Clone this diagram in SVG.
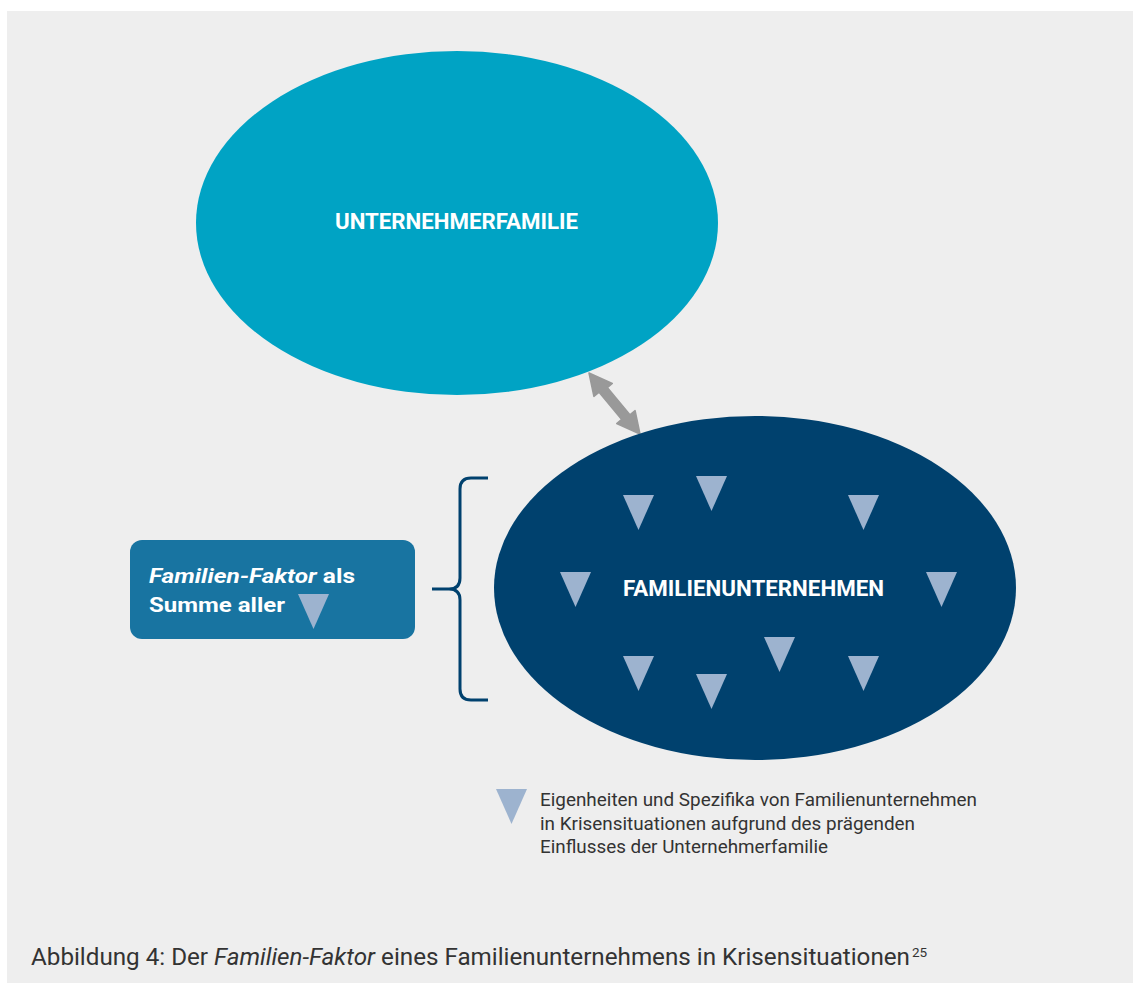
<svg xmlns="http://www.w3.org/2000/svg" width="1133" height="983" viewBox="0 0 1133 983">
<defs>
<style>
.bg{fill:#eeeeee}
.lbl{font-family:Roboto,"Liberation Sans",sans-serif;font-weight:700;fill:#ffffff;font-size:22px}
.tri{fill:#9db3cf}
.box{font-family:Roboto,"Liberation Sans",sans-serif;font-weight:700;fill:#ffffff;font-size:21px}
.leg{font-family:Roboto,"Liberation Sans",sans-serif;fill:#333333;font-size:18px}
.cap{font-family:Roboto,"Liberation Sans",sans-serif;fill:#333333;font-size:23px}
.sup{font-family:Roboto,"Liberation Sans",sans-serif;fill:#333333;font-size:13.5px}
</style>
<path id="t" d="M0,0 h31 l-15.5,35 z"/>
</defs>
<rect width="1133" height="983" fill="#ffffff"/>
<rect class="bg" x="7" y="11" width="1126" height="972"/>

<g id="connectors">
<polygon fill="#999999" stroke="#999999" stroke-width="1.5" stroke-linejoin="round" points="589,373 612.3,383.5 607.3,387.6 629.9,414.8 635.1,410.6 640,434 616.7,423.6 621.7,419.4 599.1,392.2 593.9,396.4"/>
<path d="M488,478 H471 Q460,478 460,489 V578 Q460,589 449,589 H432 M449,589 Q460,589 460,600 V689 Q460,700 471,700 H488" fill="none" stroke="#00416e" stroke-width="3"/>
</g>

<g id="unternehmerfamilie">
<ellipse cx="457" cy="223" rx="261" ry="172" fill="#00a3c4"/>
<text class="lbl" x="456.5" y="229" text-anchor="middle" textLength="243" lengthAdjust="spacingAndGlyphs">UNTERNEHMERFAMILIE</text>
</g>

<g id="familienunternehmen">
<ellipse cx="755" cy="588" rx="261" ry="172" fill="#00416e"/>
<text class="lbl" x="753.5" y="596" text-anchor="middle" textLength="261" lengthAdjust="spacingAndGlyphs">FAMILIENUNTERNEHMEN</text>
<use href="#t" class="tri" x="623" y="495"/>
<use href="#t" class="tri" x="696" y="476"/>
<use href="#t" class="tri" x="848" y="495"/>
<use href="#t" class="tri" x="560" y="572"/>
<use href="#t" class="tri" x="926" y="572"/>
<use href="#t" class="tri" x="623" y="656"/>
<use href="#t" class="tri" x="696" y="674"/>
<use href="#t" class="tri" x="764" y="637"/>
<use href="#t" class="tri" x="848" y="656"/>
</g>

<g id="familien-faktor">
<rect x="130" y="540" width="285" height="99" rx="12" fill="#1874a1"/>
<text class="box" x="149" y="583" textLength="206" lengthAdjust="spacingAndGlyphs"><tspan font-style="italic">Familien-Faktor</tspan> als</text>
<text class="box" x="149" y="612" textLength="136" lengthAdjust="spacingAndGlyphs">Summe aller</text>
<use href="#t" class="tri" x="298" y="594"/>
</g>

<g id="legend">
<use href="#t" class="tri" x="496" y="789"/>
<text class="leg" x="540" y="806" textLength="437" lengthAdjust="spacingAndGlyphs">Eigenheiten und Spezifika von Familienunternehmen</text>
<text class="leg" x="540" y="829.5" textLength="375" lengthAdjust="spacingAndGlyphs">in Krisensituationen aufgrund des prägenden</text>
<text class="leg" x="540" y="853" textLength="288" lengthAdjust="spacingAndGlyphs">Einflusses der Unternehmerfamilie</text>
</g>

<g id="caption">
<text class="cap" x="31" y="965" textLength="879" lengthAdjust="spacingAndGlyphs">Abbildung 4: Der <tspan font-style="italic">Familien-Faktor</tspan> eines Familienunternehmens in Krisensituationen</text>
<text class="sup" x="912" y="957">25</text>
</g>
</svg>
